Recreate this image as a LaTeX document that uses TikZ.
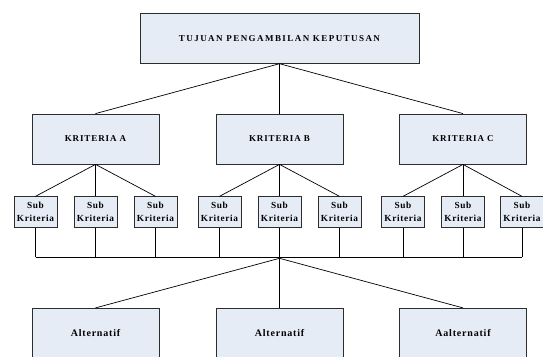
\documentclass[tikz,border=0pt]{standalone}
\usepackage{fontspec}
\setmainfont{Liberation Serif}
\newfontfamily\topfont[LetterSpace=16]{Liberation Serif}
\newfontfamily\capsfont[LetterSpace=10]{Liberation Serif}
\newfontfamily\subfont[LetterSpace=7]{Liberation Serif}
\newfontfamily\altfont[LetterSpace=8]{Liberation Serif}
\definecolor{boxfill}{RGB}{230,236,246}
\definecolor{boxline}{RGB}{45,45,45}
\tikzset{
  base/.style={draw=boxline, fill=boxfill, line width=0.8pt, inner sep=0pt, align=center},
  topbox/.style={base, minimum width=279pt, minimum height=50pt, font=\topfont\fontsize{9}{10}\selectfont\bfseries},
  kritbox/.style={base, minimum width=127pt, minimum height=50pt, font=\capsfont\fontsize{9}{10}\selectfont\bfseries},
  subbox/.style={base, minimum width=43pt, minimum height=30.5pt, font=\subfont\fontsize{9.3}{13}\selectfont\bfseries},
  altbox/.style={base, minimum width=127pt, minimum height=50pt, font=\altfont\fontsize{10}{11}\selectfont\bfseries},
  conn/.style={draw=black, line width=0.7pt}
}
\begin{document}
\begin{tikzpicture}[x=1pt, y=-1pt]
\useasboundingbox (0,0) rectangle (543,356);
\clip (0,0) rectangle (543,356);
\fill[white] (0,0) rectangle (543,356);
% top
\node[topbox] (top) at (279.5,38.3) {TUJUAN PENGAMBILAN KEPUTUSAN};
% kriteria
\node[kritbox] (ka) at (95.5,139) {KRITERIA A};
\node[kritbox] (kb) at (279.5,139) {KRITERIA B};
\node[kritbox] (kc) at (463,139) {KRITERIA C};
% sub kriteria
\foreach \n/\x in {1/35.5,2/95.5,3/155.5,4/219.5,5/279.5,6/339.5,7/403,8/463,9/522}{
  \node[subbox] (s\n) at (\x,212) {Sub\\Kriteria};
}
% alternatif
\node[altbox] (a1) at (95.5,333.3) {Alternatif};
\node[altbox] (a2) at (279.5,333.3) {Alternatif};
\node[altbox] (a3) at (463,333.3) {Aalternatif};
% coordinates
\coordinate (busl) at (35.5,257);
\coordinate (busr) at (522,257);
\coordinate (j) at (279.5,258.3);
% connectors
\draw[conn] (top.south) -- (ka.north);
\draw[conn] (top.south) -- (kb.north);
\draw[conn] (top.south) -- (kc.north);
\draw[conn] (ka.south) -- (s1.north);
\draw[conn] (ka.south) -- (s2.north);
\draw[conn] (ka.south) -- (s3.north);
\draw[conn] (kb.south) -- (s4.north);
\draw[conn] (kb.south) -- (s5.north);
\draw[conn] (kb.south) -- (s6.north);
\draw[conn] (kc.south) -- (s7.north);
\draw[conn] (kc.south) -- (s8.north);
\draw[conn] (kc.south) -- (s9.north);
\foreach \n in {1,...,9}{
  \draw[conn] (s\n.south) -- (s\n.south |- busl);
}
\draw[conn] (busl) -- (busr);
\draw[conn] (j) -- (a1.north);
\draw[conn] (j) -- (a2.north);
\draw[conn] (j) -- (a3.north);
\end{tikzpicture}
\end{document}
